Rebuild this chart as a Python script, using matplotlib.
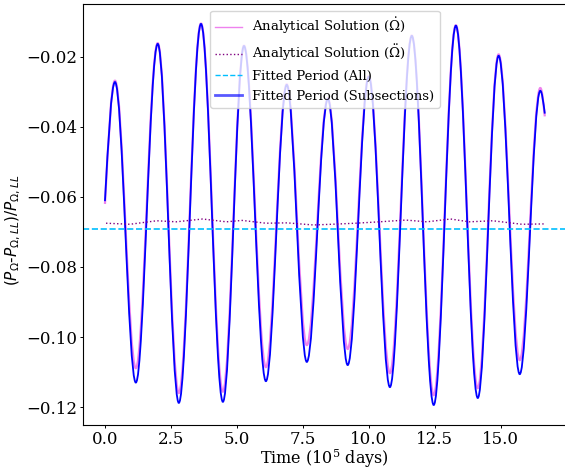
import numpy as np
import matplotlib
matplotlib.use('Agg')
import matplotlib.pyplot as plt
from matplotlib.path import Path
from matplotlib.patches import PathPatch

plt.rcParams['font.family'] = 'DejaVu Serif'
plt.rcParams['mathtext.fontset'] = 'dejavuserif'

# valores: inicio, extremos (pico/vale alternados) e fim
t_ext = [0.0, 0.38, 1.17, 2.00, 2.80, 3.64, 4.47, 5.27, 6.10, 6.89, 7.65, 8.45,
         9.20, 10.00, 10.80, 11.63, 12.46, 13.30, 14.13, 14.92, 15.72, 16.50, 16.67]
fit_sub = [-0.0612, -0.0272, -0.1130, -0.0163, -0.1188, -0.0106, -0.1185, -0.0169,
           -0.1126, -0.0280, -0.1071, -0.0320, -0.1080, -0.0257, -0.1143, -0.0140,
           -0.1194, -0.0111, -0.1174, -0.0197, -0.1106, -0.0297, -0.0362]
analitico = [-0.0620, -0.0268, -0.1089, -0.0161, -0.1160, -0.0105, -0.1156, -0.0168,
             -0.1086, -0.0278, -0.1023, -0.0318, -0.1034, -0.0255, -0.1103, -0.0139,
             -0.1166, -0.0110, -0.1146, -0.0193, -0.1066, -0.0289, -0.0370]

# solucao analitica (segunda derivada)
t_dd = [0.04, 0.95, 1.96, 2.70, 3.70, 4.60, 5.20, 6.10, 6.90, 7.90, 8.60, 9.50,
        10.40, 11.40, 12.20, 13.10, 13.80, 14.70, 15.80, 16.65]
analitico_dd = [-0.0675, -0.0678, -0.0668, -0.0671, -0.0663, -0.0671, -0.0667, -0.0675,
                -0.0674, -0.0680, -0.0678, -0.0675, -0.0671, -0.0666, -0.0671, -0.0663,
                -0.0671, -0.0668, -0.0678, -0.0677]

periodo_todos = -0.0691


def curva(t, y):
    # curva suave (bezier) passando pelos extremos com tangente horizontal
    k = 0.3634
    verts = [(t[0], y[0])]
    codes = [Path.MOVETO]
    n = len(t)
    for i in range(n - 1):
        dx = t[i + 1] - t[i]
        if i == 0:
            c1 = (t[i] + dx / 3, y[i] + (y[i + 1] - y[i]) * 0.5)
        else:
            c1 = (t[i] + k * dx, y[i])
        if i == n - 2:
            c2 = (t[i + 1] - dx / 3, y[i + 1] + (y[i] - y[i + 1]) * 0.5)
        else:
            c2 = (t[i + 1] - k * dx, y[i + 1])
        verts += [c1, c2, (t[i + 1], y[i + 1])]
        codes += [Path.CURVE4] * 3
    return Path(verts, codes)


fig = plt.figure(figsize=(5.65, 4.68), dpi=100)
ax = fig.add_axes([0.147, 0.092, 0.856, 0.8995])

ax.add_patch(PathPatch(curva(t_ext, analitico), facecolor='none', edgecolor='violet', lw=1.6))
ax.plot(t_dd, analitico_dd, color='purple', linestyle=':', lw=1)
ax.axhline(periodo_todos, color='deepskyblue', linestyle='--', lw=1.2)
ax.add_patch(PathPatch(curva(t_ext, fit_sub), facecolor='none', edgecolor='blue', lw=1.3))

# entradas da legenda
ax.plot([], [], color='violet', lw=1, label=r'Analytical Solution ($\dot{\Omega}$)')
ax.plot([], [], color='purple', linestyle=':', lw=1, label=r'Analytical Solution ($\ddot{\Omega}$)')
ax.plot([], [], color='deepskyblue', linestyle='--', lw=1, label='Fitted Period (All)')
ax.plot([], [], color='blue', lw=2, alpha=0.65, label='Fitted Period (Subsections)')

ax.set_xlim(-0.83, 17.5)
ax.set_ylim(-0.1251, -0.0049)
ax.set_xticks([0, 2.5, 5, 7.5, 10, 12.5, 15])
ax.set_yticks([-0.12, -0.10, -0.08, -0.06, -0.04, -0.02])
ax.tick_params(labelsize=12, length=2.5, pad=2, width=0.7)
for s in ax.spines.values():
    s.set_linewidth(0.8)
ax.set_xlabel('Time (10$^5$ days)', fontsize=11.5)
ax.xaxis.set_label_coords(0.5, -0.052)
ax.set_ylabel(r'$(P_{\Omega}$-$P_{\Omega,LL})/P_{\Omega,LL}$', fontsize=11,
              family='DejaVu Sans', math_fontfamily='dejavusans')
ax.yaxis.set_label_coords(-0.125, 0.463)
ax.legend(loc='upper center', fontsize=9.5)

plt.savefig('out.png', dpi=100)
